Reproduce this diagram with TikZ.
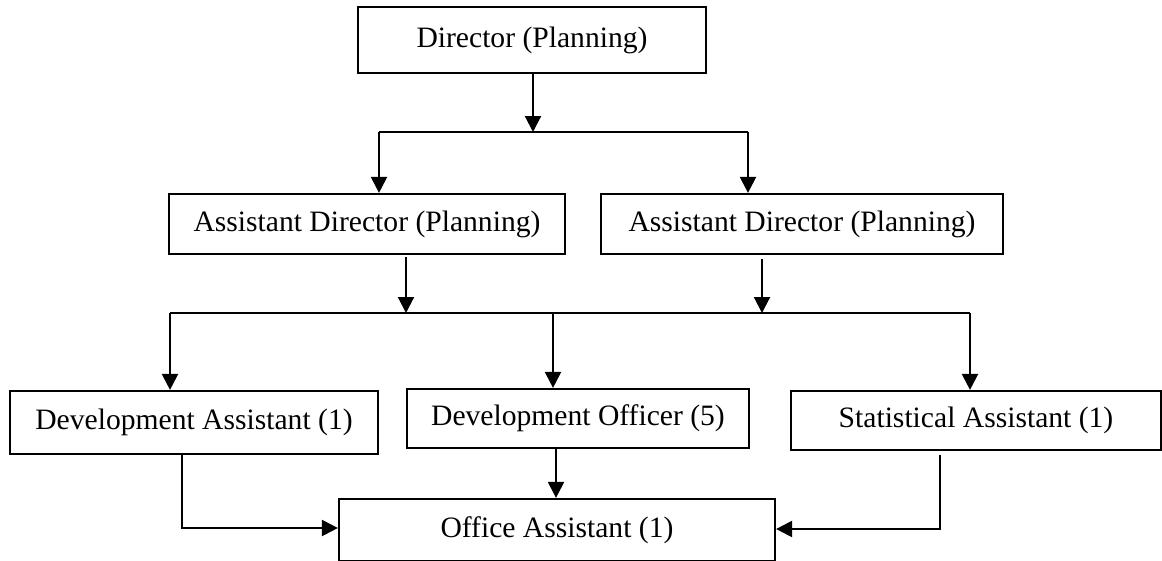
\documentclass[tikz,border=0pt]{standalone}
\usepackage{fontspec}
\setmainfont{Liberation Serif}
\usetikzlibrary{arrows.meta}
\begin{document}
\begin{tikzpicture}[x=1pt,y=-1pt,
  box/.style={draw,line width=2.2pt,inner sep=0pt,anchor=center,
    font=\fontsize{29.6}{34}\selectfont},
  conn/.style={line width=2.2pt},
  arr/.style={conn,-{Triangle[length=16pt,width=16pt]}}]
\clip (0,0) rectangle (1162,560);
\fill[white] (0,0) rectangle (1162,560);
\node[box,minimum width=348pt,minimum height=66pt] (dir) at (532,40) {\raisebox{3pt}{Director (Planning)}};
\node[box,minimum width=396pt,minimum height=60pt] (ad1) at (367,224) {Assistant Director (Planning)};
\node[box,minimum width=402pt,minimum height=60pt] (ad2) at (802,224) {Assistant Director (Planning)};
\node[box,minimum width=368pt,minimum height=63pt] (da) at (194,422.5) {Development Assistant (1)};
\node[box,minimum width=342pt,minimum height=59pt] (do) at (578,418.5) {Development Officer (5)};
\node[box,minimum width=370pt,minimum height=59pt] (sa) at (976,420.5) {Statistical Assistant (1)};
\node[box,minimum width=436pt,minimum height=62pt] (oa) at (557,530) {Office Assistant (1)};
% level 1
\coordinate (j1) at (533,132);
\coordinate (l1) at (379,132);
\coordinate (r1) at (748,132);
\draw[arr] (dir.south -| j1) -- (j1);
\draw[conn] (l1) -- (r1);
\draw[arr] (l1) -- (l1 |- ad1.north);
\draw[arr] (r1) -- (r1 |- ad2.north);
% level 2
\coordinate (a1s) at (406,257);
\coordinate (a2s) at (762,259);
\coordinate (j2) at (406,313);
\coordinate (j3) at (762,313);
\coordinate (l2) at (170,313);
\coordinate (m2) at (553,313);
\coordinate (r2) at (970,313);
\draw[arr] (a1s) -- (j2);
\draw[arr] (a2s) -- (j3);
\draw[conn] (l2) -- (r2);
\draw[arr] (l2) -- (l2 |- da.north);
\draw[arr] (m2) -- (m2 |- do.north);
\draw[arr] (r2) -- (r2 |- sa.north);
% level 3
\coordinate (das) at (182,454);
\coordinate (sas) at (940,455);
\coordinate (dos) at (556,448);
\draw[arr] (das) |- (oa.west |- 0,528);
\draw[arr] (sas) |- (oa.east |- 0,529);
\draw[arr] (dos) -- (dos |- oa.north);
\end{tikzpicture}
\end{document}
